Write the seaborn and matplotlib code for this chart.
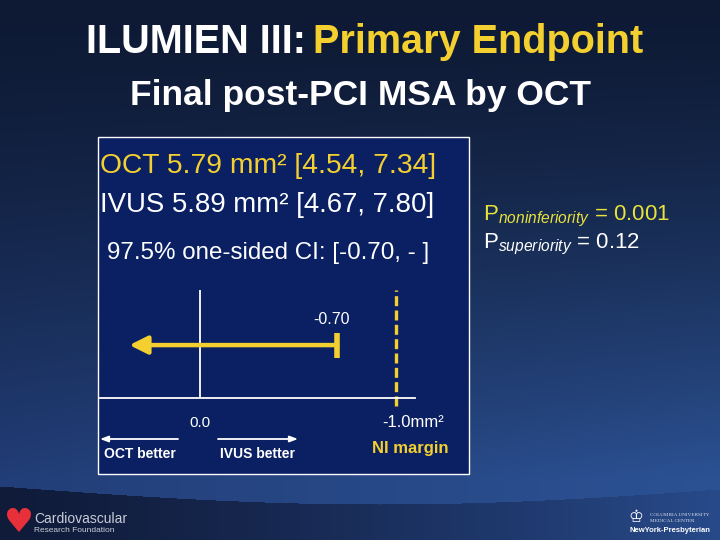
import numpy as np
import matplotlib
matplotlib.use("Agg")
import matplotlib.pyplot as plt
import seaborn as sns
from matplotlib.patches import Rectangle

# ---- data ----
ci_lower = -0.70          # 97.5% one-sided CI lower bound (mm2)
ci_open_end = 0.36        # arrow runs off toward "OCT better"
ni_margin = -1.0          # non-inferiority margin (mm2)
zero_line = 0.0
tick_values = [0.0, -1.0]
tick_labels = ["0.0", "-1.0mm²"]
oct_line = "OCT 5.79 mm² [4.54, 7.34]"
ivus_line = "IVUS 5.89 mm² [4.67, 7.80]"
ci_line = "97.5% one-sided CI: [-0.70, - ]"
p_values = {"noninferiority": "0.001", "superiority": "0.12"}

YELLOW = "#f3cf2f"
PYELLOW = "#e8e23a"
BOX = "#0a2063"

sns.set_theme(style="white")
plt.rcParams['font.family'] = ['Liberation Sans', 'DejaVu Sans']
plt.rcParams['mathtext.fontset'] = 'custom'
plt.rcParams['mathtext.rm'] = 'Liberation Sans'
plt.rcParams['mathtext.it'] = 'Liberation Sans:italic'

W, H = 720, 540
fig = plt.figure(figsize=(7.2, 5.4), dpi=100)


def fx(x):
    return x / W


def fy(y):
    return 1 - y / H


# background: dark navy top, bluer toward bottom, dark curved band at foot
yy, xx = np.mgrid[0:H, 0:W].astype(float)
t = np.clip(yy / 480, 0, 1) ** 1.4
h = xx / W
top = np.array([14, 26, 52])
low_l = np.array([34, 62, 120])
low_r = np.array([44, 82, 148])
low = low_l[None, None, :] * (1 - h[..., None]) + low_r[None, None, :] * h[..., None]
img = top[None, None, :] * (1 - t[..., None]) + low * t[..., None]
edge = 486 + 18 * np.sin(np.pi * np.clip(xx / 760, 0, 1))
foot_l = np.array([16, 27, 58])
foot_r = np.array([40, 74, 138])
foot = foot_l[None, None, :] * (1 - h[..., None] ** 1.3) + foot_r[None, None, :] * h[..., None] ** 1.3
mask = yy > edge
img[mask] = foot[mask]
bg = fig.add_axes([0, 0, 1, 1], zorder=-10)
bg.imshow(img.astype(np.uint8), aspect="auto", extent=[0, 1, 0, 1])
bg.axis("off")

# titles
fig.text(fx(306), fy(42), "ILUMIEN III:", color="white", fontsize=28.5,
         fontweight="bold", ha="right", va="center")
fig.text(fx(313), fy(42), "Primary Endpoint", color=YELLOW, fontsize=28.5,
         fontweight="bold", ha="left", va="center")
fig.text(fx(360), fy(95), "Final post-PCI MSA by OCT", color="white",
         fontsize=25.5, fontweight="bold", ha="center", va="center")

# result box (behind the plotting axes)
fig.patches.append(Rectangle((fx(98), fy(474)), fx(469) - fx(98), fy(137) - fy(474),
                             transform=fig.transFigure, facecolor=BOX,
                             edgecolor="white", linewidth=1.0, zorder=-5))
fig.text(fx(100), fy(166), oct_line, color=YELLOW, fontsize=20.3, ha="left", va="center")
fig.text(fx(100), fy(205), ivus_line, color="white", fontsize=19.9, ha="left", va="center")
fig.text(fx(107), fy(253), ci_line, color="white", fontsize=17.4, ha="left", va="center")

# forest-style axis
ax = fig.add_axes([fx(100), fy(398), fx(415) - fx(100), fy(290) - fy(398)], zorder=2)
ax.set_facecolor("none")
ax.set_xlim(0.51, -1.097)
ax.set_ylim(0, 1)
for side in ["top", "left", "right"]:
    ax.spines[side].set_visible(False)
ax.spines["bottom"].set_color("white")
ax.spines["bottom"].set_linewidth(1.3)
ax.set_xticks([])
ax.set_yticks([])

ax.axvline(zero_line, color="white", lw=1.3)
ax.plot([ni_margin, ni_margin], [-0.07, 1.0], color=YELLOW, lw=2.4,
        dashes=(3, 1.3), clip_on=False)
ax.annotate("", xy=(ci_open_end, 0.49), xytext=(ci_lower, 0.49),
            arrowprops=dict(arrowstyle="-|>,head_length=0.9,head_width=0.45",
                            color=YELLOW, lw=3.2, shrinkA=0, shrinkB=0))
ax.plot([ci_lower, ci_lower], [0.37, 0.60], color=YELLOW, lw=4, solid_capstyle="butt")
ax.text(ci_lower + 0.03, 0.73, f"{ci_lower:.2f}", color="white", fontsize=11.5,
        ha="center", va="center")
for v, lab in zip(tick_values, tick_labels):
    ax.text(v - (0.085 if v < 0 else 0), -0.23, lab, color="white",
            fontsize=12 if v < 0 else 11, ha="center", va="center", clip_on=False)

# direction labels
fig.text(fx(140), fy(454), "OCT better", color="white", fontsize=10,
         fontweight="bold", ha="center", va="center")
fig.text(fx(257), fy(454), "IVUS better", color="white", fontsize=10,
         fontweight="bold", ha="center", va="center")
fig.text(fx(410), fy(449), "NI margin", color=YELLOW, fontsize=12,
         fontweight="bold", ha="center", va="center")
fig.add_artist(plt.Annotation("", xy=(fx(100), fy(439)), xytext=(fx(178), fy(439)),
                              xycoords="figure fraction", textcoords="figure fraction",
                              arrowprops=dict(arrowstyle="-|>,head_length=0.4,head_width=0.15",
                                              color="white", lw=1.3, shrinkA=0, shrinkB=0)))
fig.add_artist(plt.Annotation("", xy=(fx(298), fy(439)), xytext=(fx(218), fy(439)),
                              xycoords="figure fraction", textcoords="figure fraction",
                              arrowprops=dict(arrowstyle="-|>,head_length=0.4,head_width=0.15",
                                              color="white", lw=1.3, shrinkA=0, shrinkB=0)))

# p values
fig.text(fx(483), fy(216), r"P$_{\mathit{noninferiority}}$ = " + p_values["noninferiority"],
         color=PYELLOW, fontsize=16, ha="left", va="center")
fig.text(fx(483), fy(244), r"P$_{\mathit{superiority}}$ = " + p_values["superiority"],
         color="white", fontsize=16, ha="left", va="center")

# footer logos
fig.text(fx(18), fy(523), "♥", color="#e8303a", fontsize=24, ha="center", va="center",
         family=["DejaVu Sans"])
fig.text(fx(34), fy(519), "Cardiovascular", color="#c8cdd8", fontsize=10,
         ha="left", va="center")
fig.text(fx(34), fy(530), "Research Foundation", color="#c8cdd8", fontsize=6,
         ha="left", va="center")
fig.text(fx(636), fy(517), "♔", color="white", fontsize=12, ha="center", va="center",
         family=["DejaVu Sans"])
fig.text(fx(650), fy(515), "COLUMBIA UNIVERSITY", color="#dde2ec", fontsize=3.7,
         ha="left", va="center", family=["Liberation Serif"])
fig.text(fx(650), fy(521), "MEDICAL CENTER", color="#dde2ec", fontsize=3.7,
         ha="left", va="center", family=["Liberation Serif"])
fig.text(fx(630), fy(531), "NewYork-Presbyterian", color="white", fontsize=5.5,
         fontweight="bold", ha="left", va="center")

fig.savefig("out.png", dpi=100)
